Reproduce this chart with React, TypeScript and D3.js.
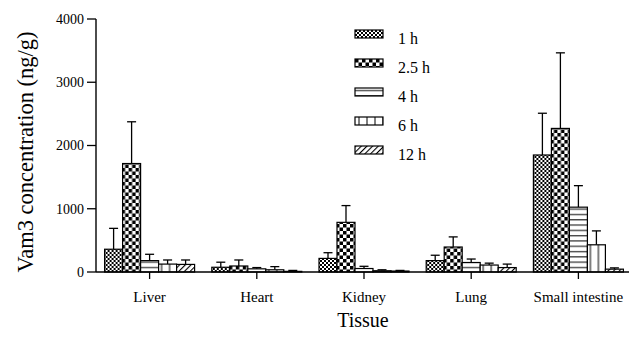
import React from 'react';
import * as d3 from 'd3';

const tissues = ['Liver', 'Heart', 'Kidney', 'Lung', 'Small intestine'];
const times = ['1 h', '2.5 h', '4 h', '6 h', '12 h'];

// mean values per time point, ordered like tissues
const mean1h = [360, 75, 215, 180, 1850];
const mean25h = [1715, 95, 785, 395, 2270];
const mean4h = [180, 50, 55, 150, 1025];
const mean6h = [125, 35, 20, 110, 430];
const mean12h = [120, 10, 15, 70, 45];

// upper error (mean + SD)
const top1h = [690, 155, 305, 265, 2510];
const top25h = [2375, 190, 1050, 555, 3465];
const top4h = [280, 70, 90, 205, 1365];
const top6h = [190, 85, 35, 140, 650];
const top12h = [190, 25, 25, 125, 65];

const means = [mean1h, mean25h, mean4h, mean6h, mean12h];
const tops = [top1h, top25h, top4h, top6h, top12h];
const fills = ['url(#p1)', 'url(#p25)', 'url(#p4)', 'url(#p6)', 'url(#p12)'];
const yTicks = [0, 1000, 2000, 3000, 4000];

const font = '"Liberation Serif", "Times New Roman", serif';

export default function App() {
  const marginLeft = 96;
  const y0 = 272;

  const x = d3.scaleBand().domain(tissues).range([marginLeft, 632]).padding(0);
  const xs = d3.scaleBand().domain(times).range([-45, 45]).padding(0);
  const y = d3.scaleLinear().domain([0, 4000]).range([y0, 19]);

  return (
    <svg width={629} height={337} style={{ position: 'absolute', left: 0, top: 0 }} fontFamily={font}>
      <defs>
        <pattern id="p1" width="4" height="4" patternUnits="userSpaceOnUse">
          <rect width="4" height="4" fill="white" />
          <rect width="2" height="2" fill="black" />
          <rect x="2" y="2" width="2" height="2" fill="black" />
        </pattern>
        <pattern id="p25" width="7" height="7" patternUnits="userSpaceOnUse">
          <rect width="7" height="7" fill="white" />
          <rect width="3.5" height="3.5" fill="black" />
          <rect x="3.5" y="3.5" width="3.5" height="3.5" fill="black" />
        </pattern>
        <pattern id="p4" width="10" height="5.3" patternUnits="userSpaceOnUse">
          <rect width="10" height="5.3" fill="white" />
          <line x1="0" x2="10" y1="2.5" y2="2.5" stroke="black" strokeWidth="1" />
        </pattern>
        <pattern id="p6" width="8" height="10" patternUnits="userSpaceOnUse">
          <rect width="8" height="10" fill="white" />
          <line x1="4" x2="4" y1="0" y2="10" stroke="black" strokeWidth="1" />
        </pattern>
        <pattern id="p12" width="4" height="4" patternUnits="userSpaceOnUse" patternTransform="rotate(45)">
          <rect width="4" height="4" fill="white" />
          <line x1="0" x2="0" y1="0" y2="4" stroke="black" strokeWidth="2.2" />
        </pattern>
      </defs>

      {/* bars and error bars */}
      {tissues.map((t, i) => (
        <g key={t} transform={`translate(${x(t)! + x.bandwidth() / 2},0)`}>
          {times.map((tm, k) => {
            const bx = xs(tm)!;
            const bw = xs.bandwidth();
            const cx = bx + bw / 2;
            return (
              <g key={tm}>
                <line x1={cx} x2={cx} y1={y(means[k][i])} y2={y(tops[k][i])} stroke="black" strokeWidth={1.3} />
                <line x1={cx - 4.5} x2={cx + 4.5} y1={y(tops[k][i])} y2={y(tops[k][i])} stroke="black" strokeWidth={1.3} />
                <rect x={bx} y={y(means[k][i])} width={bw} height={y0 - y(means[k][i])} fill={fills[k]} stroke="black" strokeWidth={1.2} />
              </g>
            );
          })}
        </g>
      ))}

      {/* y axis */}
      <line x1={marginLeft} x2={marginLeft} y1={y(4000)} y2={y0} stroke="black" strokeWidth={1.4} />
      {yTicks.map(v => (
        <g key={v}>
          <line x1={marginLeft - 9} x2={marginLeft} y1={y(v)} y2={y(v)} stroke="black" strokeWidth={1.3} />
          <text x={marginLeft - 12} y={y(v)} dy="0.35em" textAnchor="end" fontSize={14}>{v}</text>
        </g>
      ))}
      <text transform={`translate(33,152) rotate(-90)`} textAnchor="middle" fontSize={22.5}>Vam3 concentration (ng/g)</text>

      {/* x axis */}
      <line x1={marginLeft} x2={629} y1={y0} y2={y0} stroke="black" strokeWidth={1.4} />
      {tissues.map(t => (
        <g key={t}>
          <line x1={x(t)! + x.bandwidth() / 2} x2={x(t)! + x.bandwidth() / 2} y1={y0} y2={y0 + 7} stroke="black" strokeWidth={1.3} />
          <text x={x(t)! + x.bandwidth() / 2} y={302} textAnchor="middle" fontSize={15}>{t}</text>
        </g>
      ))}
      <text x={363} y={327} textAnchor="middle" fontSize={20}>Tissue</text>

      {/* legend */}
      {times.map((tm, k) => (
        <g key={tm} transform={`translate(355,${30 + k * 29})`}>
          <rect width={28} height={8} fill={fills[k]} stroke="black" strokeWidth={1.2} />
          <text x={43} y={14} fontSize={16}>{tm}</text>
        </g>
      ))}
    </svg>
  );
}
